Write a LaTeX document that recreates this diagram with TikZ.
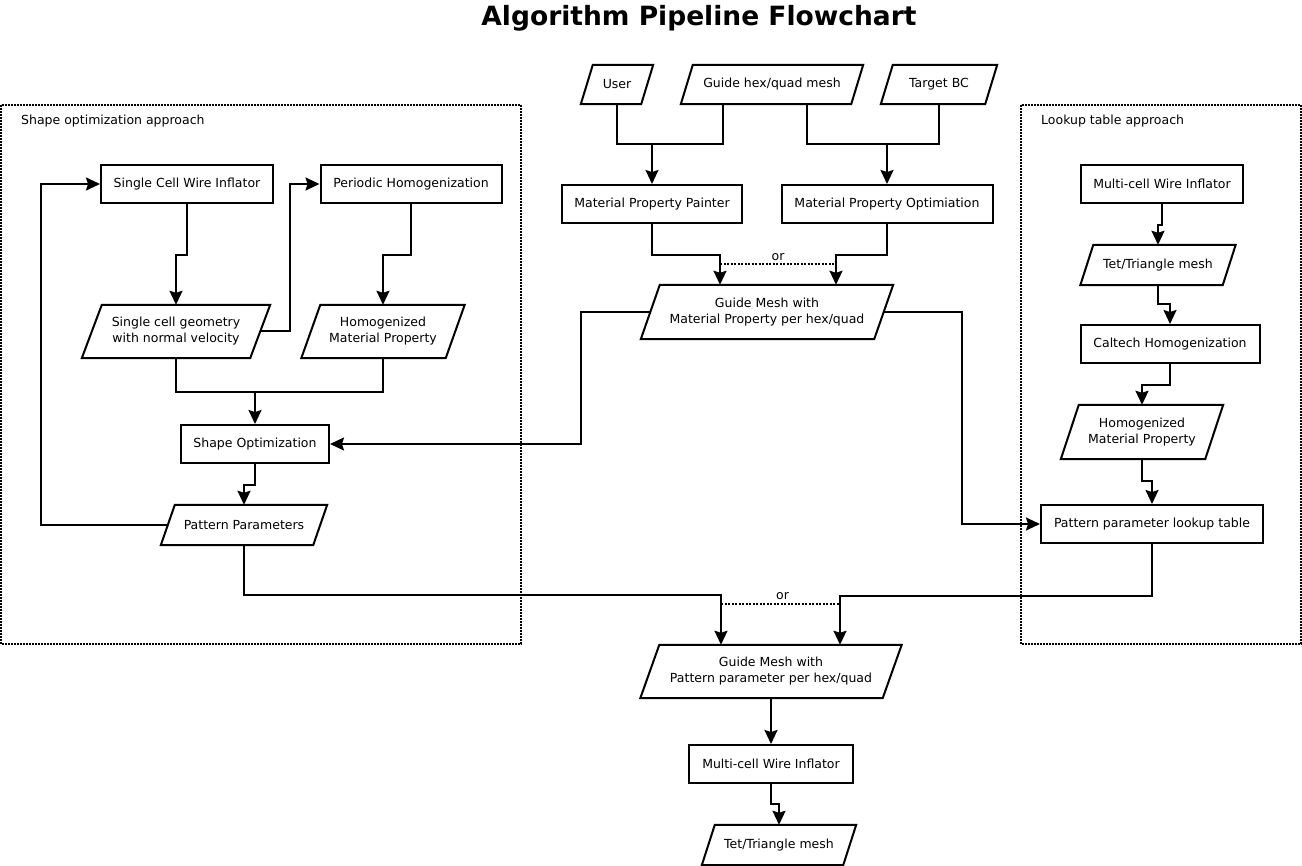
\documentclass[tikz,border=0pt]{standalone}
\usepackage{fontspec}
\setmainfont{DejaVu Sans}
\usetikzlibrary{arrows.meta,calc}
\newcommand{\parabox}[2]{\draw[boxline] ([xshift=#2pt]#1.north west) -- (#1.north east) -- ([xshift=-#2pt]#1.south east) -- (#1.south west) -- cycle;}
\begin{document}
\begin{tikzpicture}[x=1pt,y=-1pt,
  txt/.style={font=\fontsize{12.5}{16}\selectfont},
  box/.style={txt,draw,line width=2pt,rectangle,minimum height=38pt,inner sep=0pt,align=center},
  para/.style={txt,rectangle,inner sep=0pt,align=center},
  boxline/.style={line width=2pt,line join=miter},
  ln/.style={line width=2pt},
  arr/.style={line width=2pt,-{Stealth[length=14pt,width=13pt,inset=2pt]}},
  clus/.style={line width=1.6pt,dash pattern=on 1.6pt off 1.4pt},
  orline/.style={line width=2pt,dash pattern=on 2pt off 1.5pt}
]
\useasboundingbox[fill=white] (0,0) rectangle (1302,866);

% title
\node[font=\fontsize{26.5}{30}\selectfont\bfseries, anchor=base] (title) at (699,26) {Algorithm Pipeline Flowchart};

% clusters
\draw[clus] (1,105) rectangle (521,644);
\node[txt,anchor=west,inner sep=0pt] (lab1) at (21,121) {Shape optimization approach};
\draw[clus] (1021,105) rectangle (1301,644);
\node[txt,anchor=west,inner sep=0pt] (lab2) at (1041,121) {Lookup table approach};

% left cluster nodes
\node[box,minimum width=172pt] (sciw) at (187,184) {Single Cell Wire Inflator};
\node[box,minimum width=181pt] (ph) at (411,184) {Periodic Homogenization};
\node[para,minimum width=188pt,minimum height=53pt] (scg) at (176,331.5) {Single cell geometry\\ with normal velocity};
\parabox{scg}{20}
\node[para,minimum width=163pt,minimum height=53pt] (hmp) at (383,331.5) {Homogenized\\ Material Property};
\parabox{hmp}{19}
\node[box,minimum width=148pt] (so) at (255,444) {Shape Optimization};
\node[para,minimum width=166pt,minimum height=40pt] (pp) at (244,525) {Pattern Parameters};
\parabox{pp}{14}

% middle nodes
\node[para,minimum width=72pt,minimum height=39pt] (user) at (617,84.5) {User};
\parabox{user}{12}
\node[para,minimum width=182pt,minimum height=39pt] (ghq) at (772,84.5) {Guide hex/quad mesh};
\parabox{ghq}{12}
\node[para,minimum width=116pt,minimum height=39pt] (tbc) at (939,84.5) {Target BC};
\parabox{tbc}{12}
\node[box,minimum width=180pt] (mpp) at (652,204) {Material Property Painter};
\node[box,minimum width=211pt] (mpo) at (887,204) {Material Property Optimiation};
\node[para,minimum width=252pt,minimum height=54pt] (gmmp) at (767,312) {Guide Mesh with\\ Material Property per hex/quad};
\parabox{gmmp}{19}

% right cluster nodes
\node[box,minimum width=162pt] (mcw) at (1162,184) {Multi-cell Wire Inflator};
\node[para,minimum width=155pt,minimum height=40pt] (ttm) at (1158,265) {Tet/Triangle mesh};
\parabox{ttm}{13}
\node[box,minimum width=179pt] (ch) at (1170,344) {Caltech Homogenization};
\node[para,minimum width=162pt,minimum height=54pt] (hmp2) at (1142,432) {Homogenized\\ Material Property};
\parabox{hmp2}{18}
\node[box,minimum width=222pt] (lt) at (1152,524) {Pattern parameter lookup table};

% bottom nodes
\node[para,minimum width=261pt,minimum height=53pt] (gmpp) at (771,671.5) {Guide Mesh with\\ Pattern parameter per hex/quad};
\parabox{gmpp}{19}
\node[box,minimum width=164pt] (mcw2) at (771,764) {Multi-cell Wire Inflator};
\node[para,minimum width=154pt,minimum height=40pt] (ttm2) at (779,845) {Tet/Triangle mesh};
\parabox{ttm2}{13}

% junctions
\coordinate (jP) at (652,144);
\coordinate (jO) at (887,144);
\coordinate (jS) at (255,392);
\coordinate (or1L) at (720,264);
\coordinate (or1R) at (836,264);
\coordinate (or2L) at (721,604);
\coordinate (or2R) at (840,604);

% left cluster connectors
\draw[arr] (sciw.south) -- ++(0,51) -| (scg.north);
\draw[arr] (ph.south) -- ++(0,51) -| (hmp.north);
\draw[arr] ([xshift=-10pt]scg.east) -- ++(30,0) |- (ph.west);
\draw[ln] (scg.south) |- (jS);
\draw[ln] (hmp.south) |- (jS);
\draw[arr] (jS) -- (so.north);
\draw[arr] (so.south) -- ++(0,21) -| (pp.north);
\draw[arr] ([xshift=7pt]pp.west) -- ++(-127,0) |- (sciw.west);

% middle connectors
\draw[ln] (user.south) |- (jP);
\draw[ln] ([xshift=-49pt]ghq.south) |- (jP);
\draw[arr] (jP) -- (mpp.north);
\draw[ln] ([xshift=35pt]ghq.south) |- (jO);
\draw[ln] (tbc.south) |- (jO);
\draw[arr] (jO) -- (mpo.north);
\draw[arr] (mpp.south) -- ++(0,31) -| (or1L |- gmmp.north);
\draw[arr] (mpo.south) -- ++(0,31) -| (or1R |- gmmp.north);
\draw[orline] (or1L) -- (or1R);
\node[txt] (or1) at (778,257) {or};
\draw[arr] ([xshift=9.5pt]gmmp.west) -- ++(-69.5,0) |- (so.east);
\draw[arr] ([xshift=-9.5pt]gmmp.east) -- ++(78.5,0) |- (lt.west);

% right cluster connectors
\draw[arr] (mcw.south) -- ++(0,21) -| (ttm.north);
\draw[arr] (ttm.south) -- ++(0,19) -| (ch.north);
\draw[arr] (ch.south) -- ++(0,21) -| (hmp2.north);
\draw[arr] (hmp2.south) -- ++(0,22) -| (lt.north);

% bottom connectors
\draw[arr] (pp.south) -- ++(0,50) -| (or2L |- gmpp.north);
\draw[arr] (lt.south) -- ++(0,52) -| (or2R |- gmpp.north);
\draw[orline] (or2L) -- (or2R);
\node[txt] (or2) at (782.5,596) {or};
\draw[arr] (gmpp.south) -- (mcw2.north);
\draw[arr] (mcw2.south) -- ++(0,20) -| (ttm2.north);
\end{tikzpicture}
\end{document}
